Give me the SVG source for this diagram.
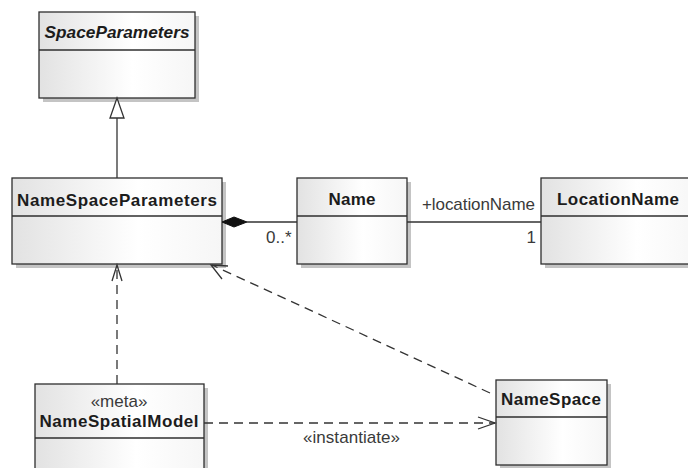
<svg xmlns="http://www.w3.org/2000/svg" width="688" height="468" viewBox="0 0 688 468">
  <style>
    .box { fill: url(#boxFill); stroke: #2e2e2e; stroke-width: 1.3; }
    .shadow { fill: #c4c4c4; }
    .div { stroke: #2e2e2e; stroke-width: 1.3; }
    .title { font-family: "Liberation Sans", Arial, sans-serif; font-weight: bold; font-size: 17px; fill: #1c1c1c; text-anchor: middle; }
    .italic { font-style: italic; }
    .lbl { font-family: "Liberation Sans", Arial, sans-serif; font-size: 17px; fill: #3a3a3a; }
    .solid { fill: none; stroke: #333; stroke-width: 1.3; }
    .dash { fill: none; stroke: #333; stroke-width: 1.3; stroke-dasharray: 9 6; }
    .head { fill: none; stroke: #333; stroke-width: 1.3; }
  </style>
  <defs>
    <linearGradient id="boxFill" x1="0" y1="0" x2="1" y2="0">
      <stop offset="0" stop-color="#e2e2e2"/>
      <stop offset="0.6" stop-color="#ffffff"/>
      <stop offset="1" stop-color="#f6f6f6"/>
    </linearGradient>
  </defs>
  <rect width="688" height="468" fill="#ffffff"/>

  <g id="SpaceParameters">
    <rect class="shadow" x="43" y="16" width="156" height="86"/>
    <rect class="box" x="39" y="12" width="156" height="86"/>
    <line class="div" x1="39" y1="50" x2="195" y2="50"/>
    <text class="title italic" x="117" y="38" textLength="145" lengthAdjust="spacingAndGlyphs">SpaceParameters</text>
  </g>

  <g id="NameSpaceParameters">
    <rect class="shadow" x="16" y="182" width="210" height="86"/>
    <rect class="box" x="12" y="178" width="210" height="86"/>
    <line class="div" x1="12" y1="216" x2="222" y2="216"/>
    <text class="title" x="117" y="206" textLength="200" lengthAdjust="spacing">NameSpaceParameters</text>
  </g>

  <g id="Name">
    <rect class="shadow" x="301" y="182" width="110" height="86"/>
    <rect class="box" x="297" y="178" width="110" height="86"/>
    <line class="div" x1="297" y1="216" x2="407" y2="216"/>
    <text class="title" x="352" y="205" textLength="47" lengthAdjust="spacing">Name</text>
  </g>

  <g id="LocationName">
    <rect class="shadow" x="545" y="182" width="160" height="86"/>
    <rect class="box" x="541" y="178" width="160" height="86"/>
    <line class="div" x1="541" y1="216" x2="701" y2="216"/>
    <text class="title" x="618" y="205" textLength="122" lengthAdjust="spacing">LocationName</text>
  </g>

  <g id="NameSpatialModel">
    <rect class="shadow" x="39" y="388" width="169" height="90"/>
    <rect class="box" x="35" y="384" width="169" height="90"/>
    <line class="div" x1="35" y1="438" x2="204" y2="438"/>
    <text class="lbl" x="119" y="407" text-anchor="middle" fill="#1c1c1c">«meta»</text>
    <text class="title" x="119" y="427" textLength="159" lengthAdjust="spacing">NameSpatialModel</text>
  </g>

  <g id="NameSpace">
    <rect class="shadow" x="500" y="384" width="111" height="85"/>
    <rect class="box" x="496" y="380" width="111" height="85"/>
    <line class="div" x1="496" y1="417" x2="607" y2="417"/>
    <text class="title" x="551" y="405" textLength="100" lengthAdjust="spacing">NameSpace</text>
  </g>

  <g id="connectors">
    <!-- generalization: NameSpaceParameters to SpaceParameters -->
    <line class="solid" x1="117" y1="178" x2="117" y2="118"/>
    <polygon points="117,98 110,118 124,118" fill="#ffffff" stroke="#333" stroke-width="1.3"/>

    <!-- composition: NameSpaceParameters owns Name -->
    <line class="solid" x1="247" y1="222" x2="297" y2="222"/>
    <polygon points="222,222 234,217 247,222 234,227" fill="#111" stroke="#111" stroke-width="1"/>
    <text class="lbl" x="266" y="243" font-size="16">0..*</text>

    <!-- association: Name to LocationName -->
    <line class="solid" x1="407" y1="222" x2="541" y2="222"/>
    <text class="lbl" x="422" y="210" textLength="113" lengthAdjust="spacing">+locationName</text>
    <text class="lbl" x="536" y="243" text-anchor="end">1</text>

    <!-- dependency: NameSpatialModel to NameSpaceParameters -->
    <line class="dash" x1="117" y1="384" x2="117" y2="266"/>
    <polyline class="head" points="112,281 117,265 122,281"/>

    <!-- dependency: NameSpace to NameSpaceParameters -->
    <line class="dash" x1="490" y1="393" x2="212" y2="265"/>
    <polyline class="head" points="222,279 211,265 228,266"/>

    <!-- instantiate: NameSpatialModel to NameSpace -->
    <line class="dash" x1="204" y1="423" x2="495" y2="423"/>
    <polyline class="head" points="478,417 495,423 478,429"/>
    <text class="lbl" x="303" y="443" textLength="97" lengthAdjust="spacing">«instantiate»</text>
  </g>
</svg>
